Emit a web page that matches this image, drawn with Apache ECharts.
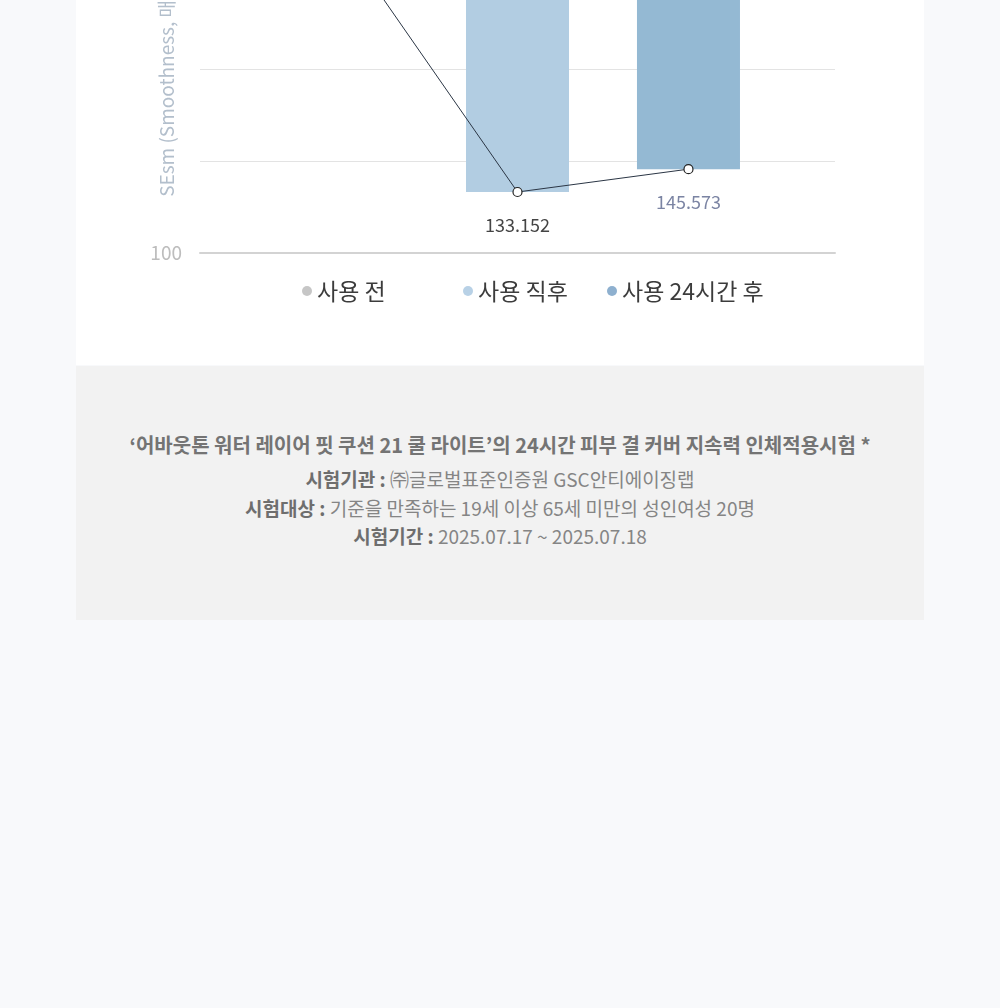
<!DOCTYPE html>
<html>
<head>
<meta charset="utf-8">
<script src="https://cdn.jsdelivr.net/npm/echarts@6/dist/echarts.min.js"></script>
<style>
  html, body { margin: 0; padding: 0; width: 1000px; height: 1008px; overflow: hidden; background: #f8f9fb; font-family: "Noto Sans CJK KR", "Noto Sans", sans-serif; }
  #chart { position: absolute; left: 76px; top: -400px; width: 848px; height: 765px; background: #ffffff; }
  #note { position: absolute; left: 76px; top: 366px; width: 848px; height: 254px; background: #f2f2f2; text-align: center; color: #7a7a7a; }
  #note .l1 { position: absolute; left: 0; width: 100%; top: 65px; font-size: 20px; font-weight: 700; color: #747474; letter-spacing: 0px; line-height: 28px; }
  #note .ln { position: absolute; left: 0; width: 100%; font-size: 19px; line-height: 26px; letter-spacing: 0px; color: #858585; }
  #note .ln b { font-weight: 700; color: #6e6e6e; }
</style>
</head>
<body>
<div id="chart"></div>
<div id="note">
  <div class="l1">‘어바웃톤 워터 레이어 핏 쿠션 21 쿨 라이트’의 24시간 피부 결 커버 지속력 인체적용시험 *</div>
  <div class="ln" style="top:100px"><b>시험기관 :</b> ㈜글로벌표준인증원 GSC안티에이징랩</div>
  <div class="ln" style="top:129px"><b>시험대상 :</b> 기준을 만족하는 19세 이상 65세 미만의 성인여성 20명</div>
  <div class="ln" style="top:157px"><b>시험기간 :</b> 2025.07.17 ~ 2025.07.18</div>
</div>
<script>
// ---- data ----
const categories = ['사용 전', '사용 직후', '사용 24시간 후'];
const values = [266.835, 133.152, 145.573];
const barColors = ['#c8c8c8', '#b2cde2', '#94b9d3'];
const legendColors = ['#c6c6c6', '#b8d1e6', '#8eb0cf'];
const labelColors = ['#444444', '#444444', '#7b84a3'];
const yName = 'SEsm (Smoothness, 매끄러움)';
const yMin = 100, yMax = 300, yInterval = 50;

const chart = echarts.init(document.getElementById('chart'), null, { renderer: 'canvas' });

const barSeries = categories.map((name, i) => ({
  name: name,
  type: 'custom',
  itemStyle: { color: barColors[i] },
  clip: true,
  z: 1,
  data: [[i, values[i]]],
  renderItem: function (params, api) {
    const x = api.value(0), v = api.value(1);
    const pv = api.coord([x, v]);
    const pt = api.coord([x, yMax]);
    const w = 103;
    return {
      type: 'rect',
      shape: { x: pv[0] - w / 2, y: pt[1], width: w, height: pv[1] - pt[1] },
      style: { fill: api.visual('color') }
    };
  }
}));

const lineSeries = {
  name: 'line',
  type: 'line',
  z: 5,
  symbol: 'circle',
  symbolSize: 9,
  lineStyle: { color: '#2b3645', width: 1 },
  itemStyle: { color: '#ffffff', borderColor: '#222222', borderWidth: 1.2 },
  data: values.map((v, i) => ({
    value: [i, v],
    label: { color: labelColors[i] }
  })),
  label: {
    show: true,
    position: 'bottom',
    distance: 19,
    fontSize: 18,
    fontFamily: 'Noto Sans CJK KR',
    formatter: p => p.value[1].toFixed(3)
  }
};

const legendLefts = [226, 387, 531];
const legends = categories.map((name, i) => ({
  data: [{ name: name, itemStyle: { color: legendColors[i] } }],
  left: legendLefts[i],
  top: 677,
  padding: 0,
  icon: 'circle',
  itemWidth: 10,
  itemHeight: 10,
  selectedMode: false,
  textStyle: { fontSize: 23, color: '#3c3c3c', fontFamily: 'Noto Sans CJK KR', lineHeight: 28 }
}));

chart.setOption({
  animation: false,
  backgroundColor: '#ffffff',
  grid: { left: 124, right: 89, top: 285, bottom: 112 },
  legend: legends,
  xAxis: {
    type: 'value',
    min: -0.857,
    max: 2.857,
    axisLabel: { show: false },
    axisTick: { show: false },
    splitLine: { show: false },
    axisLine: { show: true, lineStyle: { color: '#d3d3d3', width: 2 } }
  },
  yAxis: {
    type: 'value',
    min: yMin,
    max: yMax,
    interval: yInterval,
    name: yName,
    nameLocation: 'middle',
    nameGap: 24,
    nameMoveOverlap: false,
    nameTextStyle: { color: '#b3bfcc', fontSize: 19, fontFamily: 'Noto Sans CJK KR' },
    axisLine: { show: false },
    axisTick: { show: false },
    axisLabel: {
      formatter: v => (v === yMin ? String(v) : ''),
      color: '#bdbdbd',
      fontSize: 19,
      margin: 18,
      fontFamily: 'Noto Sans CJK KR'
    },
    splitLine: { lineStyle: { color: '#e3e3e3', width: 1 } }
  },
  series: [...barSeries, lineSeries]
});
</script>
</body>
</html>
